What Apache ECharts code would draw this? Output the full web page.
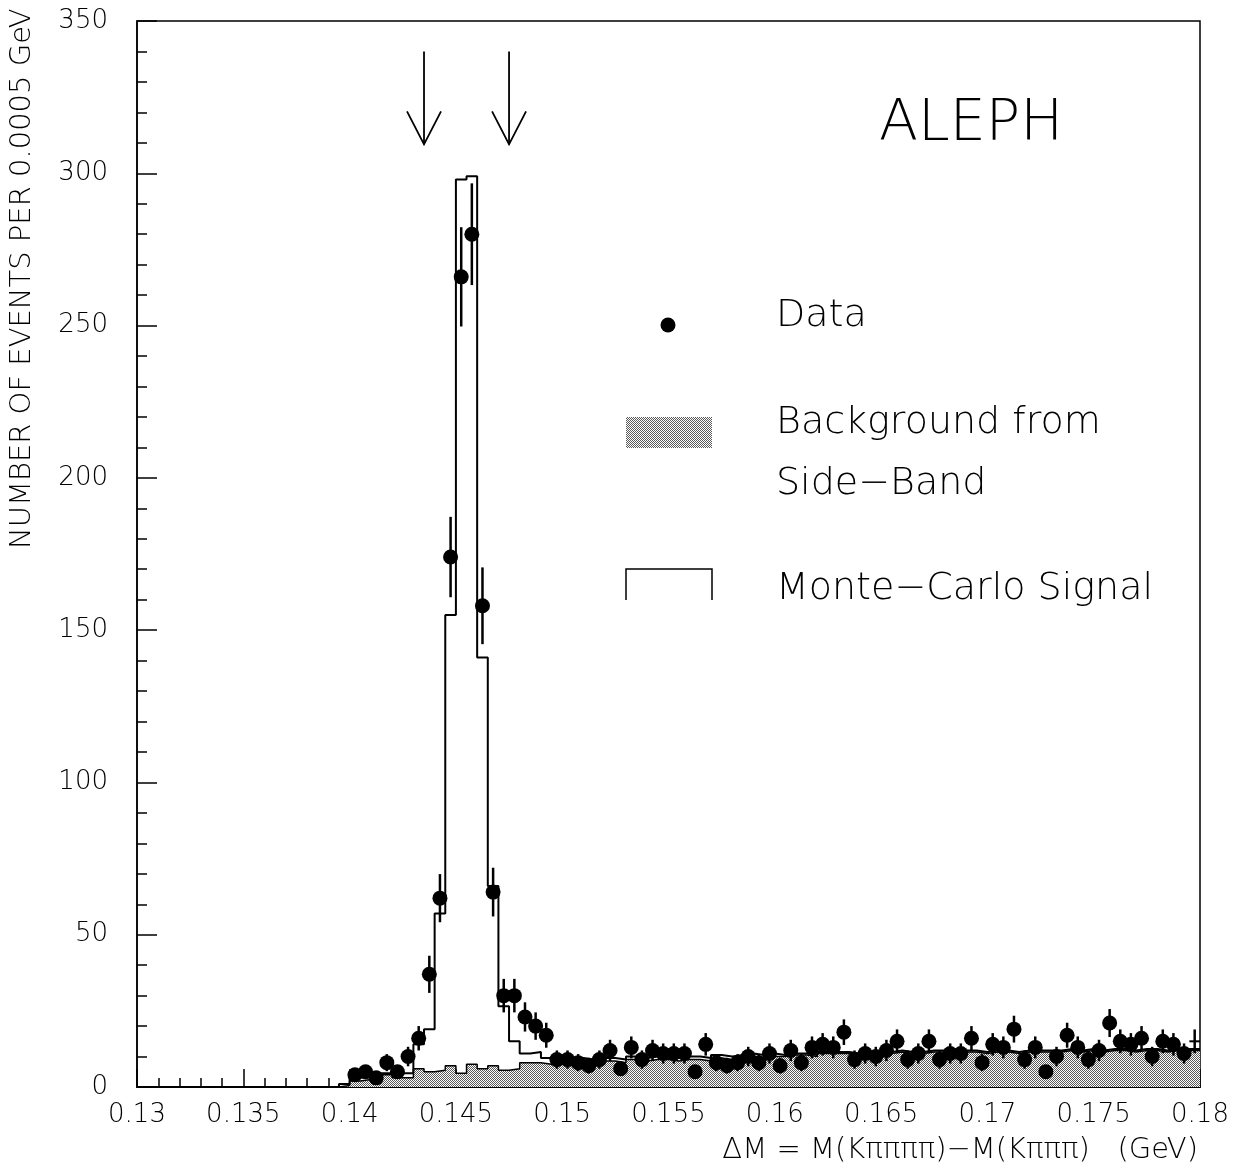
<!DOCTYPE html>
<html><head><meta charset="utf-8">
<script src="https://cdn.jsdelivr.net/npm/echarts@6/dist/echarts.min.js"></script>
<style>html,body{margin:0;padding:0;background:#fff}#c{width:1247px;height:1171px}</style>
</head><body><div id="c"></div>
<script>
// ---------------- data ----------------
const binWidth = 0.0005;
const binLow = [
  0.1395,
  0.1400,0.1405,0.1410,0.1415,0.1420,0.1425,0.1430,0.1435,0.1440,0.1445,
  0.1450,0.1455,0.1460,0.1465,0.1470,0.1475,0.1480,0.1485,0.1490,0.1495,
  0.1500,0.1505,0.1510,0.1515,0.1520,0.1525,0.1530,0.1535,0.1540,0.1545,
  0.1550,0.1555,0.1560,0.1565,0.1570,0.1575,0.1580,0.1585,0.1590,0.1595,
  0.1600,0.1605,0.1610,0.1615,0.1620,0.1625,0.1630,0.1635,0.1640,0.1645,
  0.1650,0.1655,0.1660,0.1665,0.1670,0.1675,0.1680,0.1685,0.1690,0.1695,
  0.1700,0.1705,0.1710,0.1715,0.1720,0.1725,0.1730,0.1735,0.1740,0.1745,
  0.1750,0.1755,0.1760,0.1765,0.1770,0.1775,0.1780,0.1785,0.1790,0.1795
];
const backgroundSideBand = [
  0.5,
  2, 2.5, 2, 4, 3, 3, 6, 5, 5.5, 7,
  4.5, 7.5, 6, 7, 5.5, 6, 8, 8, 7.5, 7.5,
  8, 8.5, 8, 7.5, 8.5, 8, 9, 8.5, 9, 9,
  8.5, 9, 9, 8.5, 9.5, 9, 9.5, 10, 9.5, 10,
  10, 10.5, 10.5, 10, 11, 11, 11, 10.5, 11, 11,
  11, 11.5, 11, 11, 11.5, 11.5, 11, 11.5, 11.5, 11,
  11.5, 11.5, 11, 11.5, 11.5, 11.5, 11.5, 12, 11.5, 12,
  11.5, 12, 12, 11.5, 12, 12, 11.5, 12, 12, 12
];
const monteCarloSignal = [
  1,
  3, 3.5, 3, 4.5, 4.5, 4.5, 14, 19, 57, 155,
  298, 299, 141, 66, 26.5, 15, 11, 11.5, 9.5, 8.5,
  9, 9.5, 9, 8.5, 9.5, 9, 10, 9.5, 10, 10,
  9.5, 10, 10, 9.5, 10.5, 10, 10.5, 11, 10.5, 11,
  10.5, 11, 11, 10.5, 11.5, 11.5, 11.5, 11, 11.5, 11.5,
  11.5, 12, 11.5, 11.5, 12, 12, 11.5, 12, 12, 11.5,
  12, 12, 11.5, 12, 12, 12, 12, 12.5, 12, 12.5,
  12, 12.5, 12.5, 12, 12.5, 12.5, 12, 12.5, 12.5, 12.5
];
const dataCounts = [
  null,
  4, 5, 3, 8, 5, 10, 16, 37, 62, 174,
  266, 280, 158, 64, 30, 30, 23, 20, 17, 9,
  9, 8, 7, 9, 12, 6, 13, 9, 12, 11,
  11, 11, 5, 14, 8, 7, 8, 10, 8, 11,
  7, 12, 8, 13, 14, 13, 18, 9, 11, 10,
  12, 15, 9, 11, 15, 9, 11, 11, 16, 8,
  14, 13, 19, 9, 13, 5, 10, 17, 13, 9,
  12, 21, 15, 14, 16, 10, 15, 14, 11, 15
];
const dataErrors = [
  null,
  2, 2.2, 1.7, 2.8, 2.2, 3.2, 4, 6.1, 7.9, 13.2,
  16.3, 16.7, 12.6, 8, 5.5, 5.5, 4.8, 4.5, 4.1, 3,
  3, 2.8, 2.6, 3, 3.5, 2.4, 3.6, 3, 3.5, 3.3,
  3.3, 3.3, 2.2, 3.7, 2.8, 2.6, 2.8, 3.2, 2.8, 3.3,
  2.6, 3.5, 2.8, 3.6, 3.7, 3.6, 4.2, 3, 3.3, 3.2,
  3.5, 3.9, 3, 3.3, 3.9, 3, 3.3, 3.3, 4, 2.8,
  3.7, 3.6, 4.4, 3, 3.6, 2.2, 3.2, 4.1, 3.6, 3,
  3.5, 4.6, 3.9, 3.7, 4, 3.2, 3.9, 3.7, 3.3, 3.9
];
const crossOnlyBins = [0.1795];   // plotted as a plain cross, no dot
const xMin = 0.13, xMax = 0.18, xStep = 0.005;
const yMin = 0, yMax = 350, yStep = 50;
const arrowX = [0.1435, 0.1475];
const arrowTopValue = 340, arrowTipValue = 309.5;

const xTitle = 'ΔM = M(Kππππ)−M(Kπππ)   (GeV)';
const yTitle = 'NUMBER OF EVENTS PER 0.0005 GeV';
const legendTexts = ['Data', 'Background from', 'Side−Band', 'Monte−Carlo Signal'];
const expLabel = 'ALEPH';

// ---------------- helpers ----------------
const FONT = 'DejaVu Sans';
function makePattern() {
  const c = document.createElement('canvas');
  c.width = 2; c.height = 2;
  const g = c.getContext('2d');
  g.fillStyle = '#fff'; g.fillRect(0, 0, 2, 2);
  g.fillStyle = '#5a5a5a'; g.fillRect(0, 0, 1, 1); g.fillRect(1, 1, 1, 1);
  return c;
}
const pattern = {image: makePattern(), repeat: 'repeat'};

function stepPoints(values) {
  const pts = [[binLow[0], 0]];
  values.forEach((v, i) => pts.push([binLow[i], v]));
  pts.push([binLow[binLow.length - 1] + binWidth, values[values.length - 1]]);
  return pts;
}

const scatterData = [];
const errData = [];
binLow.forEach((lo, i) => {
  const v = dataCounts[i];
  if (v == null) return;
  const cx = lo + binWidth / 2;
  const cross = crossOnlyBins.indexOf(lo) >= 0;
  scatterData.push(cross ? {value: [cx, v], symbol: 'none'} : [cx, v]);
  errData.push([cx, v, dataErrors[i], cross ? 1 : 0]);
});

// ---------------- chart ----------------
const chart = echarts.init(document.getElementById('c'), null, {renderer: 'canvas'});
const GL = 137, GR = 1200, GT = 21, GB = 1087;
const txt = (x, y, text, size, align) => ({type: 'text', x: x, y: y, style: {text: text, fontFamily: FONT,
  fontSize: size, fontWeight: 200, fill: '#000', textAlign: align || 'left', textVerticalAlign: 'middle'}});

chart.setOption({
  animation: false,
  backgroundColor: '#fff',
  grid: {left: GL, right: 1247 - GR, top: GT, bottom: 1171 - GB, show: true,
         borderColor: '#000', borderWidth: 1.5, backgroundColor: 'transparent'},
  xAxis: {
    type: 'value', min: xMin, max: xMax, interval: xStep,
    axisLine: {show: true, lineStyle: {color: '#000', width: 2}},
    axisTick: {show: true, inside: true, length: 18, lineStyle: {color: '#000', width: 1.5}},
    minorTick: {show: true, splitNumber: 5, length: 9, lineStyle: {color: '#000', width: 1.5}},
    splitLine: {show: false},
    axisLabel: {margin: 15, color: '#000', fontFamily: FONT, fontSize: 26, fontWeight: 200,
      formatter: v => String(+v.toFixed(4))}
  },
  yAxis: {
    type: 'value', min: yMin, max: yMax, interval: yStep,
    axisLine: {show: true, lineStyle: {color: '#000', width: 1.5}},
    axisTick: {show: true, inside: true, length: 20, lineStyle: {color: '#000', width: 1.5}},
    minorTick: {show: true, splitNumber: 5, length: 10, lineStyle: {color: '#000', width: 1.5}},
    splitLine: {show: false},
    axisLabel: {margin: 29, color: '#000', fontFamily: FONT, fontSize: 26, fontWeight: 200}
  },
  series: [
    {
      name: 'Background from Side-Band', type: 'line', step: 'end', symbol: 'none',
      data: stepPoints(backgroundSideBand), z: 2,
      lineStyle: {color: '#000', width: 1.5},
      areaStyle: {color: pattern, opacity: 1}
    },
    {
      name: 'Monte-Carlo Signal', type: 'line', step: 'end', symbol: 'none',
      data: stepPoints(monteCarloSignal), z: 3,
      lineStyle: {color: '#000', width: 2}
    },
    {
      name: 'errors', type: 'custom', z: 4, data: errData,
      renderItem: function (params, api) {
        const x = api.value(0), v = api.value(1), e = api.value(2), cross = api.value(3);
        const p1 = api.coord([x, v - e]), p2 = api.coord([x, v + e]);
        const children = [{type: 'line', shape: {x1: p1[0], y1: p1[1], x2: p2[0], y2: p2[1]},
          style: {stroke: '#000', lineWidth: 2.5}}];
        if (cross) {
          const a = api.coord([x - binWidth / 2, v]), b = api.coord([x + binWidth / 2, v]);
          children.push({type: 'line', shape: {x1: a[0], y1: a[1], x2: b[0], y2: b[1]},
            style: {stroke: '#000', lineWidth: 2}});
        }
        return {type: 'group', children: children};
      }
    },
    {
      name: 'Data', type: 'scatter', z: 5, data: scatterData,
      symbol: 'circle', symbolSize: 15, itemStyle: {color: '#000', opacity: 1}
    },
    {
      name: 'arrows', type: 'custom', z: 5,
      data: arrowX.map(x => [x, arrowTopValue, arrowTipValue]),
      renderItem: function (params, api) {
        const x = api.value(0);
        const top = api.coord([x, api.value(1)]), tip = api.coord([x, api.value(2)]);
        return {type: 'group', children: [
          {type: 'line', shape: {x1: top[0], y1: top[1], x2: tip[0], y2: tip[1]},
            style: {stroke: '#000', lineWidth: 1.8}},
          {type: 'polyline', shape: {points: [[tip[0] - 17, tip[1] - 33], [tip[0], tip[1]], [tip[0] + 17, tip[1] - 33]]},
            style: {stroke: '#000', lineWidth: 1.8, fill: null}}
        ]};
      }
    }
  ],
  graphic: [
    txt(879, 125, expLabel, 57),
    {type: 'circle', shape: {cx: 668, cy: 325, r: 7.5}, style: {fill: '#000'}},
    txt(776, 316, legendTexts[0], 38),
    {type: 'rect', shape: {x: 626, y: 417, width: 86, height: 31}, style: {fill: pattern}},
    txt(776, 423.5, legendTexts[1], 38),
    txt(776, 484, legendTexts[2], 38),
    {type: 'polyline', shape: {points: [[626, 600], [626, 569], [712, 569], [712, 600]]},
      style: {stroke: '#000', lineWidth: 1.5, fill: null}},
    txt(776, 589, legendTexts[3], 38),
    txt(1198, 1150, xTitle, 29, 'right'),
    Object.assign(txt(22, 549, yTitle, 29), {rotation: Math.PI / 2})
  ]
});
</script>
</body></html>
